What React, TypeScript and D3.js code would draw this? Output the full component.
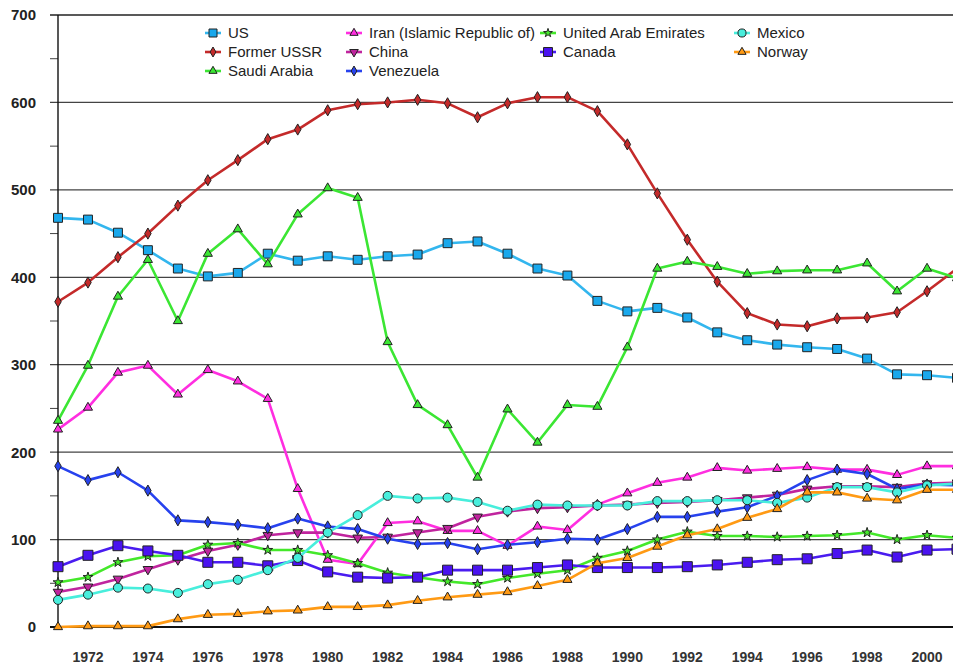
import React from "react";
import * as d3 from "d3";

const years = d3.range(1971, 2002);

const us = [468, 466, 451, 431, 410, 401, 405, 427, 419, 424, 420, 424, 426, 439, 441, 427, 410, 402, 373, 361, 365, 354, 337, 328, 323, 320, 318, 307, 289, 288, 285];
const ussr = [372, 394, 423, 450, 482, 511, 534, 558, 569, 591, 598, 600, 603, 599, 583, 599, 606, 606, 590, 552, 496, 443, 395, 359, 346, 344, 353, 354, 360, 384, 410];
const saudi = [236, 299, 378, 420, 350, 427, 455, 415, 472, 502, 491, 326, 254, 231, 171, 249, 211, 254, 252, 320, 410, 418, 412, 404, 407, 408, 408, 416, 384, 410, 399];
const iran = [226, 251, 291, 299, 266, 294, 281, 261, 158, 77, 72, 119, 121, 110, 110, 93, 115, 111, 140, 153, 165, 171, 182, 179, 181, 183, 180, 180, 174, 184, 184];
const china = [40, 46, 55, 66, 77, 87, 94, 105, 108, 108, 102, 103, 108, 113, 126, 132, 136, 137, 139, 140, 142, 143, 145, 148, 151, 158, 161, 161, 160, 164, 165];
const venezuela = [184, 168, 177, 156, 122, 120, 117, 113, 124, 115, 112, 101, 95, 96, 89, 94, 97, 101, 100, 112, 126, 126, 132, 137, 150, 168, 180, 175, 158, 163, 162];
const uae = [51, 57, 74, 81, 82, 94, 96, 88, 88, 82, 73, 62, 57, 52, 49, 56, 61, 65, 79, 87, 100, 109, 104, 104, 103, 104, 105, 108, 100, 105, 102];
const canada = [69, 82, 93, 87, 82, 74, 74, 70, 76, 63, 57, 56, 57, 65, 65, 65, 68, 71, 68, 68, 68, 69, 71, 74, 77, 78, 84, 88, 80, 88, 89];
const mexico = [31, 37, 45, 44, 39, 49, 54, 65, 79, 108, 128, 150, 147, 148, 143, 133, 140, 139, 139, 139, 144, 144, 145, 145, 142, 148, 160, 160, 154, 162, 164];
const norway = [0, 1, 1, 1, 9, 14, 15, 18, 19, 23, 23, 25, 30, 34, 37, 40, 47, 54, 73, 79, 92, 105, 112, 125, 135, 154, 154, 147, 145, 157, 157];

const yTicks = [0, 100, 200, 300, 400, 500, 600, 700];
const xTicks = d3.range(1972, 2001, 2);

type Series = {
  name: string;
  values: number[];
  color: string;
  fill: string;
  symbol: d3.SymbolType;
  size: number;
  rotate?: number;
};

const series: Series[] = [
  { name: "US", values: us, color: "#33b6ee", fill: "#19a8ec", symbol: d3.symbolSquare, size: 80 },
  { name: "Former USSR", values: ussr, color: "#c42a2a", fill: "#c42a2a", symbol: d3.symbolDiamond, size: 36 },
  { name: "Saudi Arabia", values: saudi, color: "#3be633", fill: "#3be633", symbol: d3.symbolTriangle, size: 36 },
  { name: "Iran (Islamic Republic of)", values: iran, color: "#ff2ee0", fill: "#ff2ee0", symbol: d3.symbolTriangle, size: 36 },
  { name: "China", values: china, color: "#c0249e", fill: "#c0249e", symbol: d3.symbolTriangle, size: 40, rotate: 180 },
  { name: "Venezuela", values: venezuela, color: "#2742ee", fill: "#2742ee", symbol: d3.symbolDiamond, size: 36 },
  { name: "United Arab Emirates", values: uae, color: "#44e82a", fill: "#44e82a", symbol: d3.symbolStar, size: 30 },
  { name: "Canada", values: canada, color: "#4a1cf0", fill: "#4a12f0", symbol: d3.symbolSquare, size: 100 },
  { name: "Mexico", values: mexico, color: "#48eedc", fill: "#48eedc", symbol: d3.symbolCircle, size: 64 },
  { name: "Norway", values: norway, color: "#ff9a14", fill: "#ff9a14", symbol: d3.symbolTriangle, size: 36 },
];

const WIDTH = 953;
const HEIGHT = 666;

const App = () => {
  const x = d3.scaleLinear().domain([1971, 2001]).range([58, 957]);
  const y = d3.scaleLinear().domain([0, 700]).range([627, 15]);

  const line = d3
    .line<number>()
    .x((_, i) => x(years[i]))
    .y((d) => y(d));

  // legend: first two columns hold 3 entries, the last two hold 2
  const legendCols = [213, 354, 548, 742];
  const legendRows = [33, 52, 71];
  const legendPos = (i: number) =>
    i < 6 ? [legendCols[Math.floor(i / 3)], legendRows[i % 3]] : [legendCols[2 + Math.floor((i - 6) / 2)], legendRows[(i - 6) % 2]];

  return (
    <svg
      width={WIDTH}
      height={HEIGHT}
      style={{ position: "absolute", left: 0, top: 0, background: "#fff" }}
      fontFamily="Arial, 'Liberation Sans', sans-serif"
    >
      {/* gridlines and y axis */}
      {yTicks.map((t) => (
        <g key={t}>
          {t > 0 && (
            <line x1={50} x2={WIDTH} y1={y(t)} y2={y(t)} stroke={t === 700 ? "#222" : "#444"} strokeWidth={t === 700 ? 1.6 : 1.2} />
          )}
          <text x={36} y={y(t)} dy="0.36em" textAnchor="end" fontSize={15} fontWeight="bold" fill="#222">
            {t}
          </text>
        </g>
      ))}
      {yTicks.slice(0, -1).map((t) => (
        <line key={"m" + t} x1={50} x2={58} y1={y(t + 50)} y2={y(t + 50)} stroke="#444" strokeWidth={1} />
      ))}
      <line x1={58} x2={58} y1={y(700)} y2={y(0)} stroke="#111" strokeWidth={1.4} />
      <line x1={50} x2={WIDTH} y1={y(0)} y2={y(0)} stroke="#111" strokeWidth={2.2} />

      {xTicks.map((t) => (
        <text key={t} x={x(t)} y={662} textAnchor="middle" fontSize={14} fontWeight="bold" fill="#333">
          {t}
        </text>
      ))}

      {/* series */}
      {series.map((s) => (
        <g key={s.name}>
          <path d={line(s.values)!} fill="none" stroke={s.color} strokeWidth={2.6} strokeLinejoin="round" />
          {s.values.map((v, i) => (
            <path
              key={i}
              d={d3.symbol().type(s.symbol).size(s.size)()!}
              transform={`translate(${x(years[i])},${y(v)}) rotate(${s.rotate ?? 0})`}
              fill={s.fill}
              stroke="#222"
              strokeWidth={1}
            />
          ))}
        </g>
      ))}

      {/* legend */}
      {series.map((s, i) => {
        const [cx, cy] = legendPos(i);
        return (
          <g key={"lg" + s.name} transform={`translate(${cx},${cy})`}>
            <line x1={-8} x2={8} y1={0} y2={0} stroke={s.color} strokeWidth={2.6} />
            <path
              d={d3.symbol().type(s.symbol).size(s.size * 0.8)()!}
              transform={`rotate(${s.rotate ?? 0})`}
              fill={s.fill}
              stroke="#222"
              strokeWidth={1}
            />
            <text x={15} y={0} dy="0.36em" fontSize={15} fill="#222">
              {s.name}
            </text>
          </g>
        );
      })}
    </svg>
  );
};

export default App;
